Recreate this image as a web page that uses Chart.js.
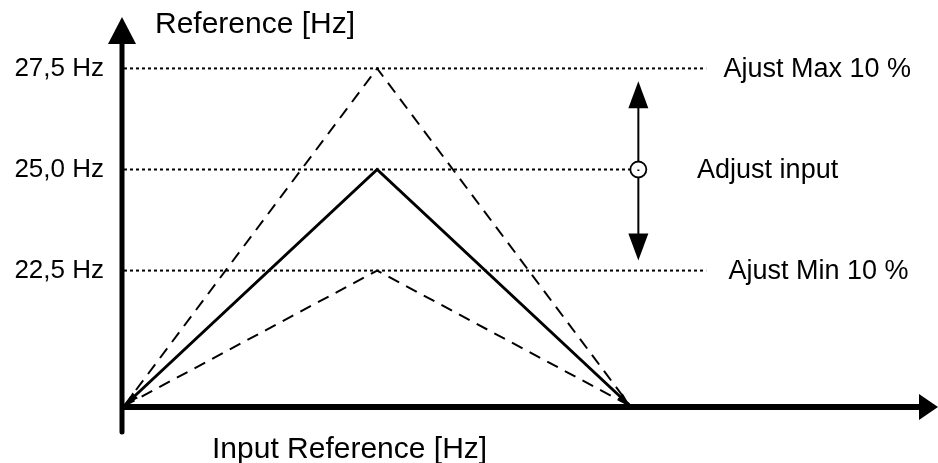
<!DOCTYPE html>
<html>
<head>
<meta charset="utf-8">
<script src="https://cdn.jsdelivr.net/npm/chart.js@4.4.1/dist/chart.umd.min.js"></script>
<style>
  html, body { margin: 0; padding: 0; background: #fff; }
  #wrap { width: 938px; height: 463px; }
</style>
</head>
<body>
<div id="wrap"><canvas id="c" width="938" height="463"></canvas></div>
<script>
// ---- data ----
const inputPoints = [0, 50, 100];          // input reference (schematic)
const nominalRef = [0, 25.0, 0];           // solid line
const maxRef = [0, 27.5, 0];               // dashed, +10 %
const minRef = [0, 22.5, 0];               // dashed, -10 %
const tickValues = [22.5, 25.0, 27.5];
const guideLevels = [27.5, 25.0, 22.5];
const guideEnds = [115, 101.6, 115];
const labelTexts = ['Ajust Max 10 %', 'Adjust input', 'Ajust Min 10 %'];
const labelX = [118.4, 113.2, 119.4];
const adjustX = 101.6;
const adjustRange = [22.75, 27.18];
const yTitle = 'Reference [Hz]';
const xTitle = 'Input Reference [Hz]';

// broken y axis: compressed below 22.5
const BREAK = 22.5, COMP = 3.35 / 22.5;
const brk = v => v >= BREAK ? v : BREAK - (BREAK - v) * COMP;
const unbrk = t => t >= BREAK ? t : BREAK - (BREAK - t) / COMP;

class BrokenLinear extends Chart.LinearScale {
  getPixelForValue(v) { return super.getPixelForValue(brk(v)); }
  getValueForPixel(p) { return unbrk(super.getValueForPixel(p)); }
}
BrokenLinear.id = 'brokenLinear';
BrokenLinear.defaults = Chart.LinearScale.defaults;
Chart.register(BrokenLinear);

const FONT = '"Liberation Sans", Arial, sans-serif';
const pts = ys => inputPoints.map((x, i) => ({ x, y: ys[i] }));

const datasets = [
  { data: pts(nominalRef), borderColor: '#000', borderWidth: 3, borderDash: [] },
  { data: pts(maxRef), borderColor: '#000', borderWidth: 2, borderDash: [12, 8] },
  { data: pts(minRef), borderColor: '#000', borderWidth: 2, borderDash: [12, 8] },
];
guideLevels.forEach((lv, i) => {
  datasets.push({ data: [{ x: 0, y: lv }, { x: guideEnds[i], y: lv }], borderColor: '#000', borderWidth: 2, borderDash: [3, 3] });
});
datasets.forEach(d => { d.pointRadius = 0; d.tension = 0; d.fill = false; d.clip = false; d.borderCapStyle = 'butt'; d.borderJoinStyle = 'miter'; });

function arrowHead(ctx, x, y, dx, dy, len, half) {
  const L = Math.hypot(dx, dy), ux = dx / L, uy = dy / L;
  ctx.beginPath();
  ctx.moveTo(x, y);
  ctx.lineTo(x - ux * len - uy * half, y - uy * len + ux * half);
  ctx.lineTo(x - ux * len + uy * half, y - uy * len - ux * half);
  ctx.closePath();
  ctx.fill();
}

const decor = {
  id: 'decor',
  afterDatasetsDraw(chart) {
    const ctx = chart.ctx, xs = chart.scales.x, ys = chart.scales.y;
    const ox = xs.getPixelForValue(0), oy = ys.getPixelForValue(0);
    ctx.save();
    ctx.fillStyle = '#000'; ctx.strokeStyle = '#000';
    // y axis
    ctx.lineWidth = 5; ctx.lineCap = 'round';
    ctx.beginPath(); ctx.moveTo(ox - 2, oy + 26); ctx.lineTo(ox - 2, 40); ctx.stroke();
    ctx.lineCap = 'butt';
    arrowHead(ctx, ox - 2, 17, 0, -1, 27, 14);
    // x axis
    ctx.lineWidth = 6;
    ctx.beginPath(); ctx.moveTo(ox - 4, oy + 1); ctx.lineTo(922, oy + 1); ctx.stroke();
    arrowHead(ctx, 938, oy + 1, 1, 0, 19, 13);
    // small arrowheads of the solid line
    const px = inputPoints.map(v => xs.getPixelForValue(v));
    const py = nominalRef.map(v => ys.getPixelForValue(v));
    arrowHead(ctx, px[0] + 1, py[0] - 1, px[0] - px[1], py[0] - py[1], 14, 4);
    arrowHead(ctx, px[2], py[2], px[2] - px[1], py[2] - py[1], 14, 4);
    // adjust arrow
    const ax = xs.getPixelForValue(adjustX);
    const aTop = ys.getPixelForValue(adjustRange[1]), aBot = ys.getPixelForValue(adjustRange[0]);
    ctx.lineWidth = 2;
    ctx.beginPath(); ctx.moveTo(ax, aTop + 20); ctx.lineTo(ax, aBot - 20); ctx.stroke();
    arrowHead(ctx, ax, aTop, 0, -1, 27, 10);
    arrowHead(ctx, ax, aBot, 0, 1, 27, 10);
    const cy = ys.getPixelForValue(25);
    ctx.beginPath(); ctx.arc(ax, cy, 8, 0, Math.PI * 2);
    ctx.fillStyle = '#fff'; ctx.fill(); ctx.lineWidth = 1.8; ctx.stroke();
    ctx.fillStyle = '#000';
    ctx.fillRect(ax - 1, cy, 2, 1.5);
    // texts
    ctx.textBaseline = 'middle'; ctx.textAlign = 'left';
    ctx.font = '27px ' + FONT;
    labelTexts.forEach((t, i) => ctx.fillText(t, xs.getPixelForValue(labelX[i]), ys.getPixelForValue(guideLevels[i]) + 1));
    ctx.font = '30px ' + FONT;
    ctx.fillText(yTitle, 155, 25);
    ctx.fillText(xTitle, 212, 450);
    ctx.restore();
  }
};

new Chart(document.getElementById('c'), {
  type: 'line',
  data: { datasets },
  plugins: [decor],
  options: {
    responsive: false,
    animation: false,
    events: [],
    layout: { padding: { left: 12, right: 4, top: 2, bottom: 57 } },
    plugins: { legend: { display: false }, tooltip: { enabled: false }, title: { display: false } },
    scales: {
      x: { type: 'linear', min: 0, max: 160, display: false },
      y: {
        type: 'brokenLinear',
        min: brk(0), max: 28.51, bounds: 'data',
        grid: { display: false }, border: { display: false },
        afterFit: s => { s.width = 112; },
        afterBuildTicks: s => { s.ticks = tickValues.map(v => ({ value: v })); },
        ticks: {
          padding: 12, color: '#000', font: { family: FONT, size: 26 },
          callback: v => v.toFixed(1).replace('.', ',') + ' Hz'
        }
      }
    }
  }
});
</script>
</body>
</html>
